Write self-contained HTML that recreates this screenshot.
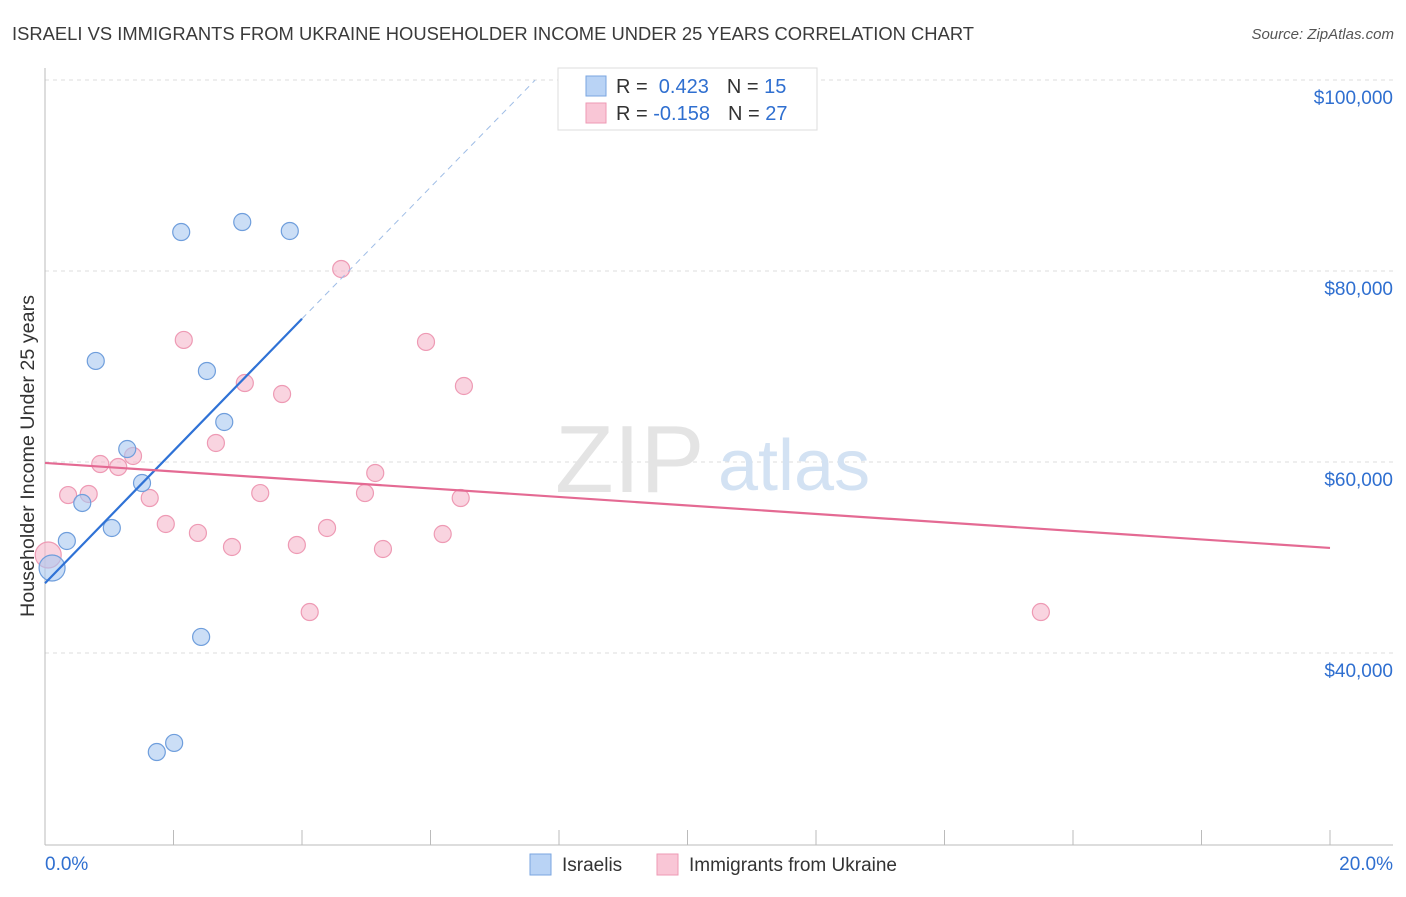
<!DOCTYPE html>
<html><head><meta charset="utf-8"><style>
body{margin:0;background:#fff;font-family:"Liberation Sans",sans-serif}
svg text{font-family:"Liberation Sans",sans-serif}
</style></head><body>
<svg id="c" width="1406" height="892">
<text x="12" y="40" font-size="18" fill="#3a3a3a" textLength="962" lengthAdjust="spacingAndGlyphs">ISRAELI VS IMMIGRANTS FROM UKRAINE HOUSEHOLDER INCOME UNDER 25 YEARS CORRELATION CHART</text>
<text x="1394" y="39" font-size="15" fill="#555" text-anchor="end" font-style="italic">Source: ZipAtlas.com</text>
<text x="34" y="456" font-size="19" fill="#333" text-anchor="middle" transform="rotate(-90 34 456)" textLength="322" lengthAdjust="spacingAndGlyphs">Householder Income Under 25 years</text>
<g id="grid"></g>
<g><text x="555" y="492" font-size="96" fill="#e4e4e4" font-family="Liberation Serif">ZIP</text><text x="718" y="490" font-size="72" fill="#d3e2f3">atlas</text></g>
<g id="marks"></g>
<g>
<rect x="558" y="68" width="259" height="62" fill="#fff" stroke="#ddd"/>
<rect x="586" y="76" width="20" height="20" fill="#b9d3f5" stroke="#7aa6e0"/>
<text x="616" y="93" font-size="20" fill="#333">R = <tspan fill="#2f6fd0">&#160;0.423</tspan><tspan dx="18" fill="#333">N = </tspan><tspan fill="#2f6fd0"> 15</tspan></text>
<rect x="586" y="103" width="20" height="20" fill="#f9c6d6" stroke="#ee9ab4"/>
<text x="616" y="120" font-size="20" fill="#333">R = <tspan fill="#2f6fd0">-0.158</tspan><tspan dx="18" fill="#333">N = </tspan><tspan fill="#2f6fd0"> 27</tspan></text>
</g>
<g>
<rect x="530" y="854" width="21" height="21" fill="#b9d3f5" stroke="#7aa6e0"/>
<text x="562" y="871" font-size="19" fill="#333">Israelis</text>
<rect x="657" y="854" width="21" height="21" fill="#f9c6d6" stroke="#ee9ab4"/>
<text x="689" y="871" font-size="19" fill="#333">Immigrants from Ukraine</text>
</g>
</svg>
<script>
const yTicks=[40000,60000,80000,100000];
const yTickLabels=["$40,000","$60,000","$80,000","$100,000"];
const xEndLabels=["0.0%","20.0%"];
const israeliX=[0.11,0.34,0.58,0.79,1.04,1.28,1.51,1.74,2.01,2.12,2.43,2.52,2.79,3.07,3.81];
const israeliY=[48900,51730,55710,70580,53090,61360,57800,29630,30580,84080,41680,69530,64190,85130,84190];
const ukraineX=[0.05,0.36,0.68,0.86,1.14,1.37,1.63,1.88,2.16,2.38,2.66,2.91,3.11,3.35,3.69,3.92,4.12,4.39,4.61,4.98,5.14,5.26,5.93,6.19,6.47,6.52,15.5];
const ukraineY=[50260,56540,56650,59790,59480,60630,56230,53510,72780,52570,61990,51100,68270,56750,67120,51310,44290,53090,80210,56750,58850,50890,72570,52460,56230,67960,44290];
const israeliTrend=[47300,75000,100000];
const israeliTrendX=[0,4,7.63];
const ukraineTrend=[59900,51000];
const ukraineTrendX=[0,20];
const NS="http://www.w3.org/2000/svg";
const X=v=>45+v*64.25, Y=v=>80+(100000-v)/104.712;
function mk(t,a,p){const e=document.createElementNS(NS,t);for(const k in a)e.setAttribute(k,a[k]);p.appendChild(e);return e;}
const g=document.getElementById('grid'),m=document.getElementById('marks');
yTicks.forEach((v,i)=>{
 const l=mk('line',{x1:45,x2:1393,y1:Y(v),y2:Y(v),stroke:'#ddd','stroke-dasharray':'4,4'},g);
 
 
 const t=mk('text',{x:1393,y:Y(v)+24,'font-size':19,fill:'#2f6fd0','text-anchor':'end'},g);t.textContent=yTickLabels[i];
 
 
});
const ax=mk('line',{x1:45,x2:1393,y1:845,y2:845,stroke:'#bbb'},g);


const ay=mk('line',{x1:45,x2:45,y1:68,y2:845,stroke:'#bbb'},g);


for(let i=0;i<=10;i++){const tk=mk('line',{x1:X(i*2),x2:X(i*2),y1:830,y2:845,stroke:'#bbb'},g);
 
 }
xEndLabels.forEach((s,i)=>{const t=mk('text',{x:i?1393:45,y:870,'font-size':19,fill:'#2f6fd0','text-anchor':i?'end':'start'},g);t.textContent=s;
 
 });
function dots(xs,ys,fill,stroke,name){xs.forEach((x,i)=>{const r=(x<0.2)?13:8.5;
 const c=mk('circle',{cx:X(x),cy:Y(ys[i]),r:r,fill:fill,'fill-opacity':0.6,stroke:stroke,'stroke-width':1.2},m);
 
 });}
dots(ukraineX,ukraineY,'#f5b8cb','#ee9ab4','ukraine-point');
dots(israeliX,israeliY,'#a9c8f0','#6f9edc','israeli-point');
const bl=mk('line',{x1:X(israeliTrendX[0]),y1:Y(israeliTrend[0]),x2:X(israeliTrendX[1]),y2:Y(israeliTrend[1]),stroke:'#2f72d6','stroke-width':2.2},m);


const bd=mk('line',{x1:X(israeliTrendX[1]),y1:Y(israeliTrend[1]),x2:X(israeliTrendX[2]),y2:Y(israeliTrend[2]),stroke:'#9fbde6','stroke-width':1,'stroke-dasharray':'6,5'},m);


const pl=mk('line',{x1:X(ukraineTrendX[0]),y1:Y(ukraineTrend[0]),x2:X(ukraineTrendX[1]),y2:Y(ukraineTrend[1]),stroke:'#e46a93','stroke-width':2.2},m);


</script>
</body></html>
